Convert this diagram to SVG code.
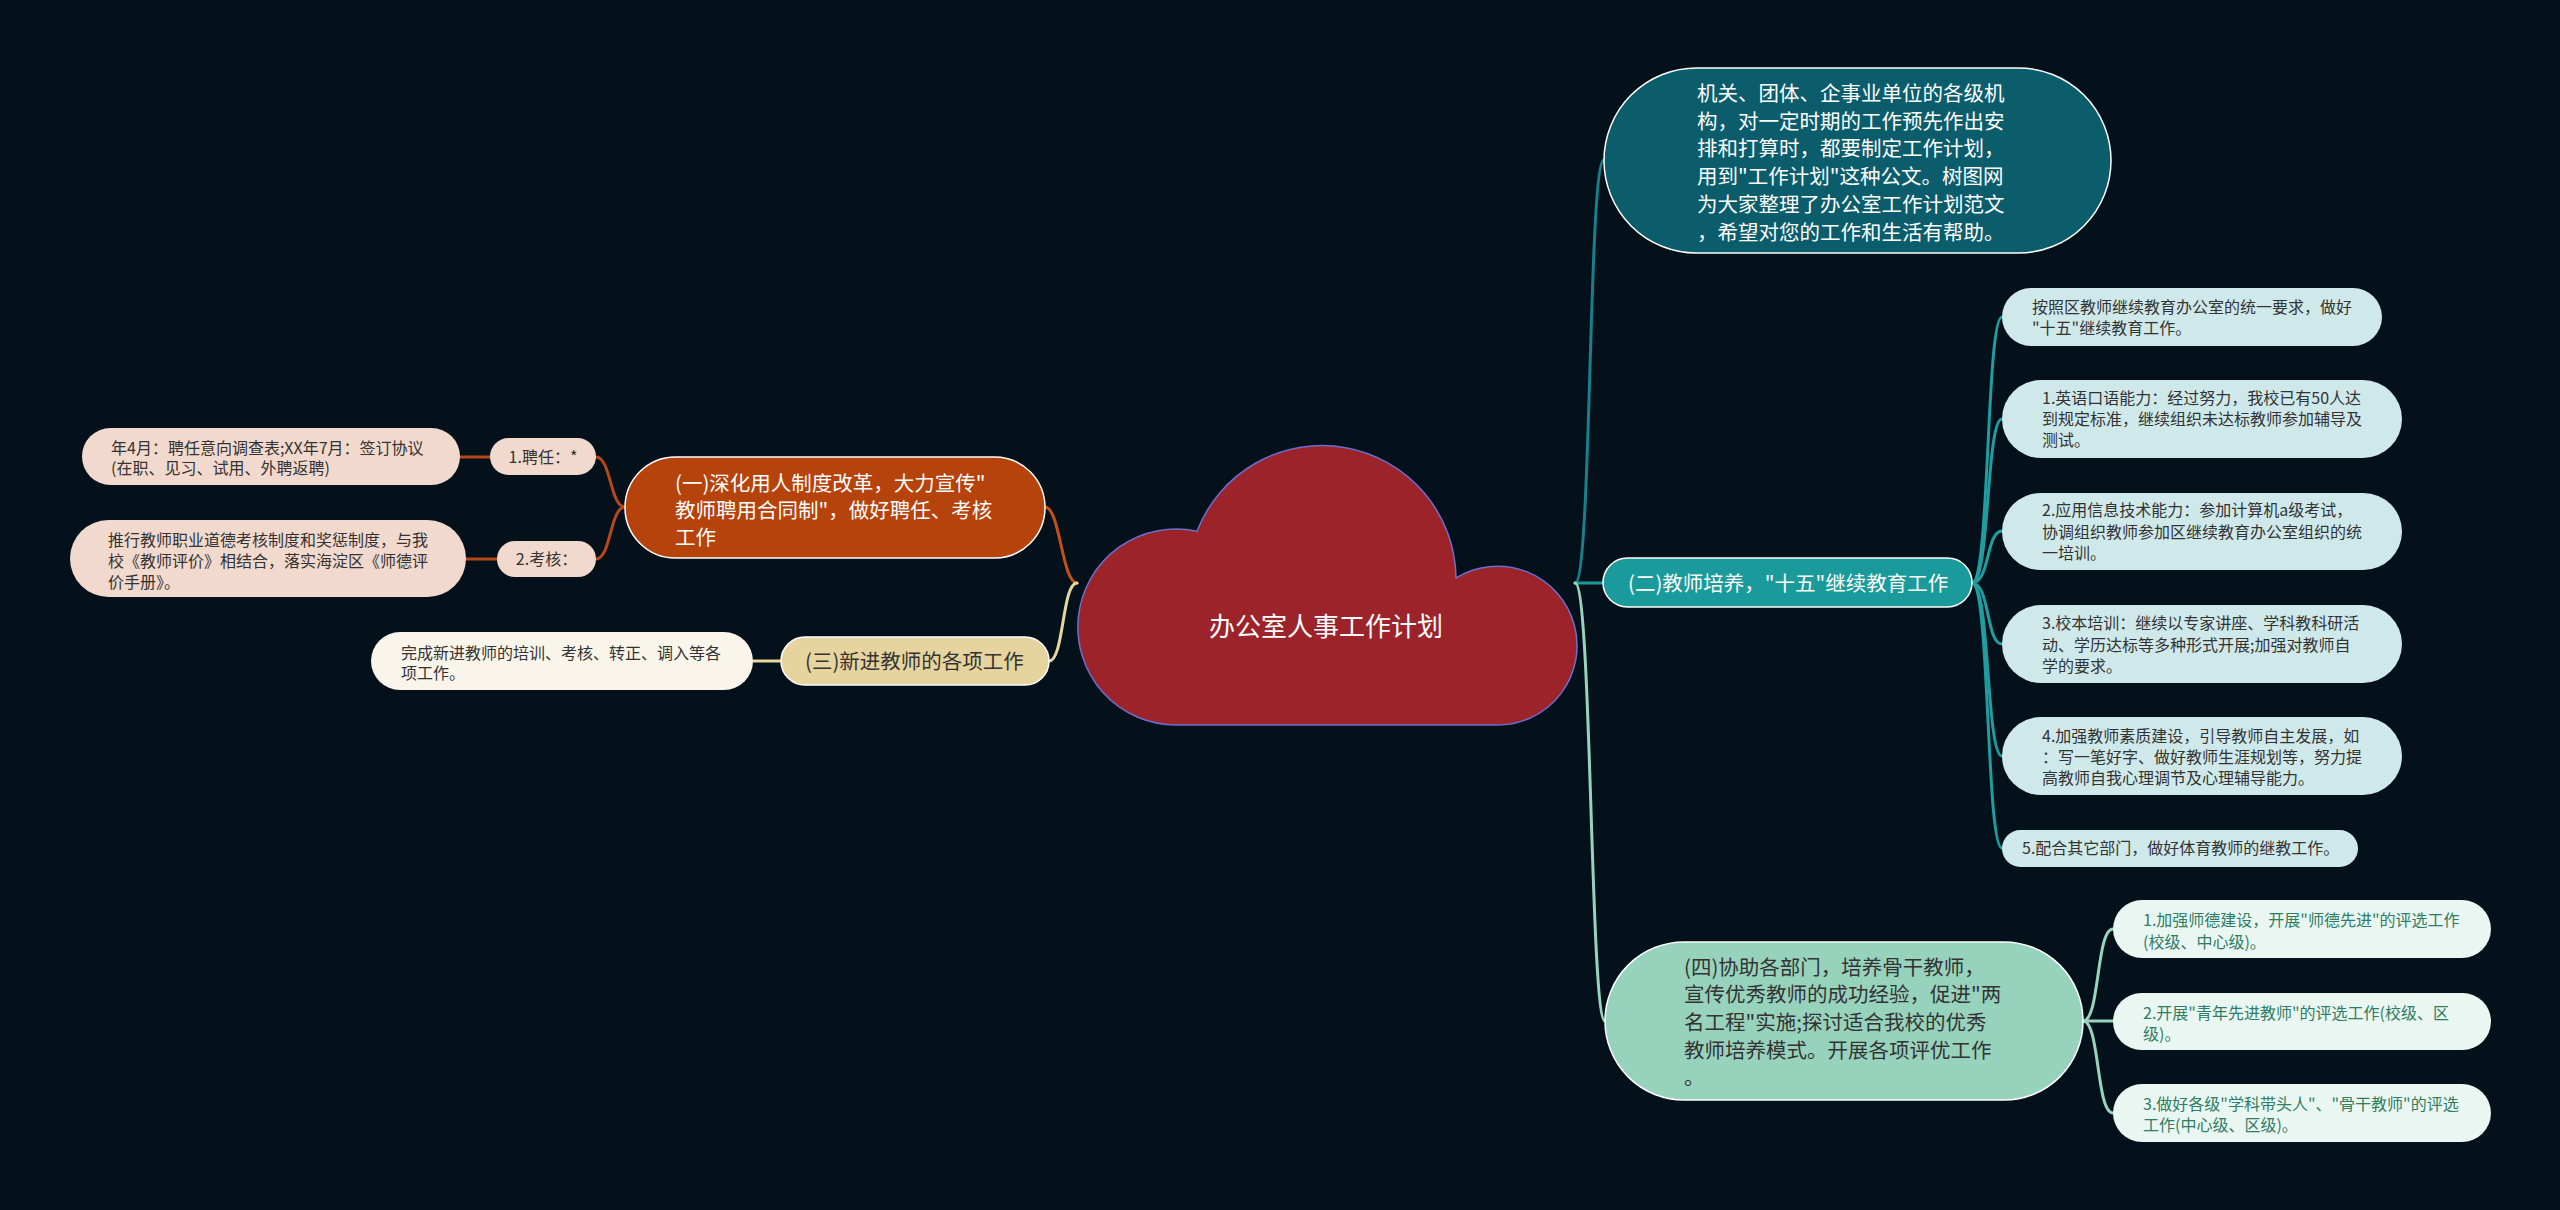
<svg xmlns="http://www.w3.org/2000/svg" width="2560" height="1210" viewBox="0 0 2560 1210">
<style>
text{font-family:"Noto Sans CJK SC","Noto Sans",sans-serif;}
.t16{font-size:16px;fill:#333333;}
.t20{font-size:20.5px;}
.w{fill:#ffffff;}
.d{fill:#333333;}
.g{fill:#2f7d62;font-size:16px;}
.c{fill:none;stroke-width:3;stroke-linecap:round;}
</style>
<rect x="0" y="0" width="2560" height="1210" fill="#04111a"/>
<g id="connectors">
<path class="c" stroke="#c2501a" d="M1077,583 C1062,583 1060,507 1045,507"/>
<path class="c" stroke="#e8d8a0" d="M1077,583 C1062,583 1064,661 1049,661"/>
<path class="c" stroke="#b4481a" d="M625,507 C610,507 611,457 596,457"/>
<path class="c" stroke="#b4481a" d="M625,507 C610,507 611,559 596,559"/>
<path class="c" stroke="#b4481a" stroke-width="4" d="M490,457 L460,457"/>
<path class="c" stroke="#b4481a" stroke-width="4" d="M497,559 L466,559"/>
<path class="c" stroke="#e8d8a0" d="M781,661 L753,661"/>
<path class="c" stroke="#16808b" d="M1575,583 C1592,583 1588,160 1604,160"/>
<path class="c" stroke="#1a9a9a" d="M1575,583 L1603,583"/>
<path class="c" stroke="#97d3bd" d="M1575,583 C1592,583 1590,1021 1605,1021"/>
<path class="c" stroke="#1f9d9f" d="M1972,583 C1990,583 1986,317 2002,317"/>
<path class="c" stroke="#1f9d9f" d="M1972,583 C1990,583 1986,419 2002,419"/>
<path class="c" stroke="#1f9d9f" d="M1972,583 C1990,583 1986,531 2002,531"/>
<path class="c" stroke="#1f9d9f" d="M1972,583 C1990,583 1986,644 2002,644"/>
<path class="c" stroke="#1f9d9f" d="M1972,583 C1990,583 1986,756 2002,756"/>
<path class="c" stroke="#1f9d9f" d="M1972,583 C1990,583 1986,848 2002,848"/>
<path class="c" stroke="#97d3bd" d="M2083,1021 C2100,1021 2096,929 2113,929"/>
<path class="c" stroke="#97d3bd" d="M2083,1021 L2113,1021"/>
<path class="c" stroke="#97d3bd" d="M2083,1021 C2100,1021 2096,1113 2113,1113"/>
</g>
<g id="root">
<path d="M1176,725 A98,98 0 1 1 1197,531.3 A134,134 0 0 1 1456,578 A79.4,79.4 0 1 1 1497,725 Z" fill="#9c2329" stroke="#6b6fd0" stroke-width="1.5"/>
<text x="1326" y="636" font-size="26" fill="#ffffff" text-anchor="middle">办公室人事工作计划</text>
</g>
<g id="intro">
<rect x="1604" y="68" width="507" height="185" rx="92.5" fill="#0b5d6c" stroke="#ffffff" stroke-width="1.5"/>
<text class="w" font-size="20.5" x="1697"><tspan x="1697" y="101">机关、团体、企事业单位的各级机</tspan><tspan x="1697" y="128.7">构，对一定时期的工作预先作出安</tspan><tspan x="1697" y="156.4">排和打算时，都要制定工作计划，</tspan><tspan x="1697" y="184.1">用到"工作计划"这种公文。树图网</tspan><tspan x="1697" y="211.8">为大家整理了办公室工作计划范文</tspan><tspan x="1697" y="239.5">，希望对您的工作和生活有帮助。</tspan></text>
</g>
<g id="b2">
<rect x="1603" y="558" width="369" height="49" rx="24.5" fill="#1a9a9a" stroke="#ffffff" stroke-width="1.5"/>
<text class="w t20" x="1628" y="590.5">(二)教师培养，"十五"继续教育工作</text>
</g>
<g id="b2c1">
<rect x="2002" y="288" width="380" height="58" rx="29" fill="#cfe9eb"/>
<text class="t16"><tspan x="2032" y="312.5">按照区教师继续教育办公室的统一要求，做好</tspan><tspan x="2032" y="333.5">"十五"继续教育工作。</tspan></text>
</g>
<g id="b2c2">
<rect x="2002" y="380" width="400" height="78" rx="39" fill="#cfe9eb"/>
<text class="t16"><tspan x="2042" y="404">1.英语口语能力：经过努力，我校已有50人达</tspan><tspan x="2042" y="425">到规定标准，继续组织未达标教师参加辅导及</tspan><tspan x="2042" y="446">测试。</tspan></text>
</g>
<g id="b2c3">
<rect x="2002" y="493" width="400" height="77" rx="38.5" fill="#cfe9eb"/>
<text class="t16"><tspan x="2042" y="516">2.应用信息技术能力：参加计算机a级考试，</tspan><tspan x="2042" y="537.5">协调组织教师参加区继续教育办公室组织的统</tspan><tspan x="2042" y="559">一培训。</tspan></text>
</g>
<g id="b2c4">
<rect x="2002" y="605" width="400" height="78" rx="39" fill="#cfe9eb"/>
<text class="t16"><tspan x="2042" y="629">3.校本培训：继续以专家讲座、学科教科研活</tspan><tspan x="2042" y="650.5">动、学历达标等多种形式开展;加强对教师自</tspan><tspan x="2042" y="672">学的要求。</tspan></text>
</g>
<g id="b2c5">
<rect x="2002" y="717" width="400" height="78" rx="39" fill="#cfe9eb"/>
<text class="t16"><tspan x="2042" y="742">4.加强教师素质建设，引导教师自主发展，如</tspan><tspan x="2042" y="763">：写一笔好字、做好教师生涯规划等，努力提</tspan><tspan x="2042" y="784">高教师自我心理调节及心理辅导能力。</tspan></text>
</g>
<g id="b2c6">
<rect x="2002" y="830" width="356" height="37" rx="18.5" fill="#cfe9eb"/>
<text class="t16" x="2022" y="854">5.配合其它部门，做好体育教师的继教工作。</text>
</g>
<g id="b4">
<rect x="1605" y="942" width="478" height="158" rx="79" fill="#97d2bd" stroke="#ffffff" stroke-width="1.5"/>
<text class="d" font-size="20.5"><tspan x="1684" y="974.5">(四)协助各部门，培养骨干教师，</tspan><tspan x="1684" y="1002.2">宣传优秀教师的成功经验，促进"两</tspan><tspan x="1684" y="1029.9">名工程"实施;探讨适合我校的优秀</tspan><tspan x="1684" y="1057.6">教师培养模式。开展各项评优工作</tspan><tspan x="1684" y="1085.3">。</tspan></text>
</g>
<g id="b4c1">
<rect x="2113" y="900" width="378" height="58" rx="29" fill="#eaf6f2"/>
<text class="g"><tspan x="2143" y="925.5">1.加强师德建设，开展"师德先进"的评选工作</tspan><tspan x="2143" y="947.5">(校级、中心级)。</tspan></text>
</g>
<g id="b4c2">
<rect x="2113" y="993" width="378" height="57" rx="28.5" fill="#eaf6f2"/>
<text class="g"><tspan x="2143" y="1018.5">2.开展"青年先进教师"的评选工作(校级、区</tspan><tspan x="2143" y="1039.5">级)。</tspan></text>
</g>
<g id="b4c3">
<rect x="2113" y="1084" width="378" height="58" rx="29" fill="#eaf6f2"/>
<text class="g"><tspan x="2143" y="1109.5">3.做好各级"学科带头人"、"骨干教师"的评选</tspan><tspan x="2143" y="1130.5">工作(中心级、区级)。</tspan></text>
</g>
<g id="b1">
<rect x="625" y="457" width="420" height="101" rx="50.5" fill="#b6420c" stroke="#ffffff" stroke-width="1.5"/>
<text class="w" font-size="20.5"><tspan x="675" y="490.5">(一)深化用人制度改革，大力宣传"</tspan><tspan x="675" y="517.5">教师聘用合同制"，做好聘任、考核</tspan><tspan x="675" y="544.5">工作</tspan></text>
</g>
<g id="b1c1">
<rect x="490" y="438" width="106" height="37" rx="18.5" fill="#f2d9cd"/>
<text class="t16" x="543" y="462.5" text-anchor="middle">1.聘任：*</text>
</g>
<g id="b1c1a">
<rect x="82" y="428" width="378" height="57" rx="28.5" fill="#f2d9cd"/>
<text class="t16"><tspan x="111" y="453.5">年4月：聘任意向调查表;XX年7月：签订协议</tspan><tspan x="111" y="474">(在职、见习、试用、外聘返聘)</tspan></text>
</g>
<g id="b1c2">
<rect x="497" y="541" width="99" height="36" rx="18" fill="#f2d9cd"/>
<text class="t16" x="546.5" y="565" text-anchor="middle">2.考核：</text>
</g>
<g id="b1c2a">
<rect x="70" y="520" width="396" height="77" rx="38.5" fill="#f2d9cd"/>
<text class="t16"><tspan x="108" y="545.5">推行教师职业道德考核制度和奖惩制度，与我</tspan><tspan x="108" y="566.5">校《教师评价》相结合，落实海淀区《师德评</tspan><tspan x="108" y="587.5">价手册》。</tspan></text>
</g>
<g id="b3">
<rect x="781" y="637" width="268" height="48" rx="24" fill="#e6d39e" stroke="#ffffff" stroke-width="1.5"/>
<text class="d t20" x="805" y="669">(三)新进教师的各项工作</text>
</g>
<g id="b3c1">
<rect x="371" y="632" width="382" height="58" rx="29" fill="#faf5ea"/>
<text class="t16"><tspan x="401" y="658.5">完成新进教师的培训、考核、转正、调入等各</tspan><tspan x="401" y="678.5">项工作。</tspan></text>
</g>
</svg>
